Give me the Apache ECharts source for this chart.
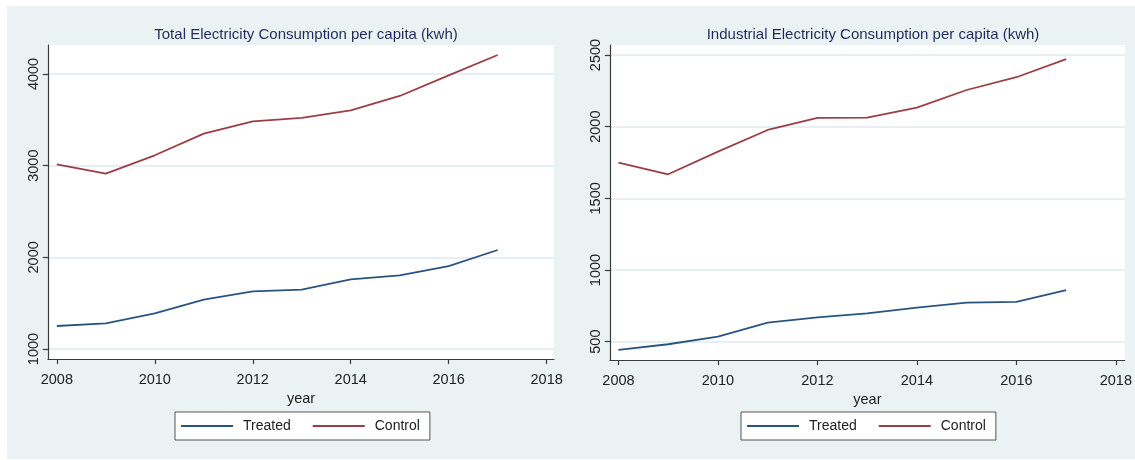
<!DOCTYPE html>
<html>
<head>
<meta charset="utf-8">
<script src="https://cdn.jsdelivr.net/npm/echarts@6/dist/echarts.min.js"></script>
<style>
  html, body { margin: 0; padding: 0; background: #ffffff; }
  #bg { position: absolute; left: 7px; top: 6px; width: 1128px; height: 453px; background: #eaf2f3; }
  #chart { position: absolute; left: 0; top: 0; width: 1135px; height: 460px; }
</style>
</head>
<body>
<div id="bg"></div>
<div id="chart"></div>
<script>
// ---- data ----
const years = [2008, 2009, 2010, 2011, 2012, 2013, 2014, 2015, 2016, 2017];
const totalTreated = [1251, 1280, 1389, 1538, 1629, 1647, 1760, 1804, 1905, 2080];
const totalControl = [3015, 2912, 3113, 3349, 3484, 3520, 3604, 3760, 3985, 4207];
const indTreated = [442, 482, 535, 633, 670, 698, 737, 772, 777, 859];
const indControl = [1749, 1668, 1826, 1977, 2061, 2063, 2133, 2256, 2345, 2472];
const xTicks = [2008, 2010, 2012, 2014, 2016, 2018];
const yTicksTotal = [1000, 2000, 3000, 4000];
const yTicksInd = [500, 1000, 1500, 2000, 2500];
const titles = ['Total Electricity Consumption per capita (kwh)', 'Industrial Electricity Consumption per capita (kwh)'];
const seriesNames = ['Treated', 'Control'];
const xName = 'year';

const FONT = '"Liberation Sans", Arial, sans-serif';
const NAVY = '#2a5480';
const MAROON = '#9a3f47';
const AXIS = '#3a3a3a';

const pairs = (vals) => years.map((y, i) => [y, vals[i]]);
const plain = (v) => String(v);

function xAxis(gridIndex, min, max) {
  return {
    type: 'value', gridIndex, min, max,
    name: xName, nameLocation: 'middle', nameGap: 27,
    nameTextStyle: { fontFamily: FONT, fontSize: 14.5, color: '#222' },
    axisLine: { show: true, onZero: false, lineStyle: { color: AXIS, width: 1.2 } },
    axisTick: { show: true, length: 5, customValues: xTicks, lineStyle: { color: AXIS, width: 1.2 } },
    axisLabel: { customValues: xTicks, formatter: plain, margin: 13, fontFamily: FONT, fontSize: 14.5, color: '#222' },
    splitLine: { show: false }
  };
}
function yAxis(gridIndex, min, max, ticks) {
  return {
    type: 'value', gridIndex, min, max,
    axisLine: { show: true, onZero: false, lineStyle: { color: AXIS, width: 1.2 } },
    axisTick: { show: true, length: 5, customValues: ticks, lineStyle: { color: AXIS, width: 1.2 } },
    axisLabel: { customValues: ticks, formatter: plain, rotate: 90, margin: 7, fontFamily: FONT, fontSize: 14.5, color: '#222' },
    splitLine: { show: true, customValues: ticks, lineStyle: { color: '#e6eff1', width: 2 } }
  };
}
function legend(left) {
  return {
    left, top: 412, orient: 'horizontal',
    data: seriesNames,
    itemWidth: 52, itemHeight: 14, itemGap: 22,
    padding: [7, 10, 7, 6],
    backgroundColor: '#ffffff', borderColor: '#555', borderWidth: 1, borderRadius: 0,
    textStyle: { fontFamily: FONT, fontSize: 14, color: '#222', padding: [0, 0, 0, 5] },
    icon: 'path://M0,0 L52,0 L52,1.8 L0,1.8 Z'
  };
}
function line(name, color, xi, vals) {
  return {
    name, type: 'line', xAxisIndex: xi, yAxisIndex: xi,
    data: pairs(vals), symbol: 'none', smooth: false,
    lineStyle: { color, width: 1.8 }, itemStyle: { color },
    animation: false
  };
}

const chart = echarts.init(document.getElementById('chart'), null, { renderer: 'canvas' });
chart.setOption({
  animation: false,
  title: [
    { text: titles[0], left: 301, top: 22, textAlign: 'center', textStyle: { fontFamily: FONT, fontSize: 15, fontWeight: 'normal', color: '#1f2b5a' } },
    { text: titles[1], left: 868, top: 22, textAlign: 'center', textStyle: { fontFamily: FONT, fontSize: 15, fontWeight: 'normal', color: '#1f2b5a' } }
  ],
  legend: [legend(175), legend(741)],
  grid: [
    { left: 48, right: 1135 - 554, top: 45, bottom: 460 - 359, show: true, backgroundColor: '#ffffff', borderWidth: 0, containLabel: false },
    { left: 610, right: 10, top: 45, bottom: 460 - 360, show: true, backgroundColor: '#ffffff', borderWidth: 0, containLabel: false }
  ],
  xAxis: [xAxis(0, 2007.82, 2018.15), xAxis(1, 2007.83, 2018.18)],
  yAxis: [yAxis(0, 891, 4316, yTicksTotal), yAxis(1, 372, 2570, yTicksInd)],
  series: [
    line(seriesNames[0], NAVY, 0, totalTreated),
    line(seriesNames[1], MAROON, 0, totalControl),
    line(seriesNames[0], NAVY, 1, indTreated),
    line(seriesNames[1], MAROON, 1, indControl)
  ]
});
</script>
</body>
</html>
